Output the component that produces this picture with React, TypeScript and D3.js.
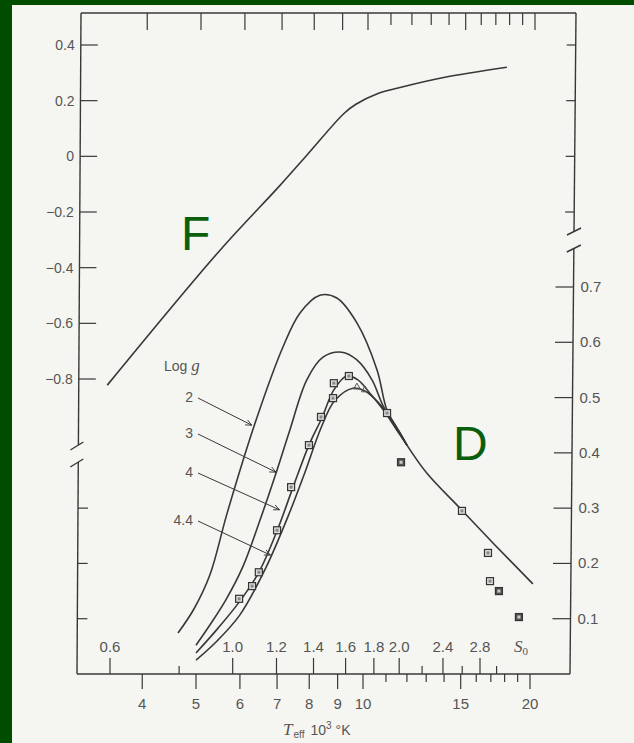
import React from 'react';
import * as d3 from 'd3';

// ---------- data ----------
const teffMajor = [4, 5, 6, 7, 8, 9, 10, 15, 20];
const teffMinor = [11, 12, 13, 14, 16, 17, 18, 19];
const s0Major = [0.6, 1.0, 1.2, 1.4, 1.6, 1.8, 2.0, 2.4, 2.8];
const s0Minor = [0.8, 2.2, 2.6, 3.0];
const fTicks = [0.4, 0.2, 0, -0.2, -0.4, -0.6, -0.8];
const fRightTicks = [0.4, 0.2, 0, -0.2];
const dTicks = [0.1, 0.2, 0.3, 0.4, 0.5, 0.6, 0.7];
const dLeftTicks = [0.1, 0.2, 0.3];

// F vs Teff (10^3 K)
const fCurve: [number, number][] = [
  [3.46, -0.822], [5.52, -0.338], [7.06, -0.108], [7.92, 0.004], [9.24, 0.154],
  [9.71, 0.187], [10.64, 0.226], [11.86, 0.251], [14.05, 0.284], [18.17, 0.32],
];

// D vs Teff for log g = 2, 3, 4, 4.4
const logg2: [number, number][] = [
  [4.64, 0.074], [4.96, 0.118], [5.3, 0.18], [5.69, 0.291], [6.39, 0.454], [7.17, 0.591], [7.7, 0.653],
  [8.36, 0.685], [8.97, 0.68], [9.75, 0.635], [10.6, 0.55], [11.05, 0.477], [11.66, 0.436], [12.0, 0.414],
];
const logg3: [number, number][] = [
  [5.0, 0.052], [5.3, 0.089], [5.66, 0.134], [6.08, 0.195], [6.52, 0.278], [7.0, 0.369],
  [7.38, 0.441], [7.92, 0.532], [8.47, 0.573], [9.16, 0.582], [9.75, 0.568], [10.38, 0.532],
  [10.86, 0.486], [11.42, 0.45], [12.0, 0.414],
];
const logg4: [number, number][] = [
  [5.0, 0.038], [5.48, 0.083], [5.98, 0.13], [6.49, 0.184], [7.0, 0.259],
  [7.45, 0.333], [7.99, 0.414], [8.43, 0.463], [8.86, 0.514], [9.35, 0.539], [9.79, 0.532],
  [10.29, 0.508], [10.95, 0.474], [11.51, 0.441], [12.0, 0.414],
];
const logg44: [number, number][] = [
  [5.0, 0.025], [5.41, 0.056], [6.0, 0.107], [6.68, 0.192], [7.38, 0.293], [7.86, 0.365],
  [8.4, 0.445], [8.9, 0.495], [9.59, 0.517], [10.08, 0.512], [10.64, 0.492], [11.28, 0.459], [12.0, 0.414],
];
const commonTail: [number, number][] = [
  [12.0, 0.414], [13.04, 0.363], [14.95, 0.3], [17.15, 0.237], [20.24, 0.163],
];

// observed points (Teff, D, dark)
const obsT = [5.98, 6.31, 6.49, 7.0, 7.42, 7.99, 8.4, 8.83, 8.86, 9.43, 11.05, 11.71, 15.08, 16.8, 16.94, 17.58, 19.1];
const obsD = [0.136, 0.159, 0.184, 0.26, 0.338, 0.414, 0.465, 0.499, 0.526, 0.539, 0.472, 0.383, 0.295, 0.219, 0.168, 0.15, 0.103];
const obsDark = [0, 0, 0, 0, 0, 0, 0, 0, 0, 0, 0, 1, 0, 0, 0, 1, 1];
const triT = [9.75, 10.08];
const triD = [0.519, 0.514];

const curveNames = ['2', '3', '4', '4.4'];
const tipT = [6.33, 7.0, 7.1, 6.84];
const tipD = [0.45, 0.365, 0.297, 0.215];

// ---------- layout ----------
const W = 634, H = 743;
const T = 13, B = 674;
// slightly rotated scan: axis x positions depend on y
const Lx = (y: number) => 81 - (4 * (y - T)) / (B - T);
const Rx = (y: number) => 576 - (6 * (y - T)) / (B - T);

const x = d3.scaleLog().domain([5, 20]).range([196, 530]);
const xTop = d3.scaleLog().domain([5, 20]).range([201, 535]);
const xs = d3.scaleLog().domain([0.6, 2.8]).range([110, 480]);
const yF = d3.scaleLinear().domain([-0.8, 0.4]).range([379, 45]);
const yD = d3.scaleLinear().domain([0, 0.7]).range([B, 287]);

const ink = '#383838';
const txt = '#555';
const font = '"Liberation Sans", Arial, sans-serif';
const serif = "'Liberation Serif', 'DejaVu Serif', serif";

export default function App() {
  const lineF = d3.line<[number, number]>().x(d => x(d[0])).y(d => yF(d[1])).curve(d3.curveCatmullRom.alpha(0.5));
  const lineD = d3.line<[number, number]>().x(d => x(d[0])).y(d => yD(d[1])).curve(d3.curveCatmullRom.alpha(0.5));
  const curves = [logg2, logg3, logg4, logg44];
  const labelY = [402, 438, 477, 525];

  const lBreakTop = 445, lBreakBot = 462;
  const rBreakTop = 231, rBreakBot = 249;

  return (
    <div style={{ position: 'fixed', left: 0, top: 0 }}>
      <svg width={W} height={H} style={{ display: 'block' }}>
        <defs>
          <marker id="ah" viewBox="0 0 10 10" refX="9" refY="5" markerWidth="7" markerHeight="7" orient="auto">
            <path d="M0,1 L9,5 L0,9" fill="none" stroke={ink} strokeWidth="1.2" />
          </marker>
        </defs>
        <rect x={0} y={0} width={W} height={H} fill="#004d00" />
        <rect x={12} y={5} width={W - 12} height={H - 5} fill="#f5f5f1" />

        {/* frame */}
        <g stroke={ink} strokeWidth={1.4} fill="none">
          <line x1={Lx(T)} y1={T} x2={Rx(T)} y2={T} />
          <line x1={Lx(B)} y1={B} x2={Rx(B)} y2={B} />
          <line x1={Lx(T)} y1={T} x2={Lx(lBreakTop)} y2={lBreakTop} />
          <line x1={Lx(lBreakBot)} y1={lBreakBot} x2={Lx(B)} y2={B} />
          <line x1={Rx(T)} y1={T} x2={Rx(rBreakTop)} y2={rBreakTop} />
          <line x1={Rx(rBreakBot)} y1={rBreakBot} x2={Rx(B)} y2={B} />
          <line x1={Lx(450) - 8} y1={450} x2={Lx(442) + 5} y2={442} />
          <line x1={Lx(467) - 8} y1={467} x2={Lx(459) + 5} y2={459} />
          <line x1={Rx(235) - 7} y1={235} x2={Rx(228) + 7} y2={228} />
          <line x1={Rx(252) - 7} y1={252} x2={Rx(245) + 7} y2={245} />
        </g>

        <g stroke={ink} strokeWidth={1.2}>
          {/* top Teff ticks */}
          {teffMajor.filter(t => t >= 4).map(t => <line key={'tM' + t} x1={xTop(t)} x2={xTop(t)} y1={T} y2={T + 17} />)}
          {teffMinor.map(t => <line key={'tm' + t} x1={xTop(t)} x2={xTop(t)} y1={T} y2={T + 12} />)}
          {/* bottom Teff ticks */}
          {teffMajor.map(t => <line key={'bM' + t} x1={x(t)} x2={x(t)} y1={B} y2={B + 15} />)}
          {teffMinor.map(t => <line key={'bm' + t} x1={x(t)} x2={x(t)} y1={B} y2={B + 8} />)}
          {/* S0 ticks */}
          {s0Major.map(s => <line key={'sM' + s} x1={xs(s)} x2={xs(s)} y1={B} y2={B - 16} />)}
          {s0Minor.map(s => <line key={'sm' + s} x1={xs(s)} x2={xs(s)} y1={B} y2={B - 8} />)}
          {/* left F ticks */}
          {fTicks.map(f => <line key={'lf' + f} x1={Lx(yF(f))} x2={Lx(yF(f)) + 17} y1={yF(f)} y2={yF(f)} />)}
          {dLeftTicks.map(d => <line key={'ld' + d} x1={Lx(yD(d))} x2={Lx(yD(d)) + 10} y1={yD(d)} y2={yD(d)} />)}
          {fRightTicks.map(f => <line key={'rf' + f} x1={Rx(yF(f)) - 9} x2={Rx(yF(f))} y1={yF(f)} y2={yF(f)} />)}
          {dTicks.map(d => <line key={'rd' + d} x1={Rx(yD(d)) - 18} x2={Rx(yD(d))} y1={yD(d)} y2={yD(d)} />)}
        </g>

        {/* tick labels */}
        <g fill={txt} fontFamily={font}>
          {fTicks.map(f => (
            <text key={'lfl' + f} x={Lx(yF(f)) - 6} y={yF(f) + 5} textAnchor="end" fontSize={14}>
              {f === 0 ? '0' : (f < 0 ? '\u2212' : '') + Math.abs(f).toFixed(1)}
            </text>
          ))}
          {dTicks.map(d => (
            <text key={'rdl' + d} x={Rx(yD(d)) + 7} y={yD(d) + 5} fontSize={15}>{d.toFixed(1)}</text>
          ))}
          {teffMajor.map(t => (
            <text key={'btl' + t} x={x(t)} y={B + 35} textAnchor="middle" fontSize={15}>{t}</text>
          ))}
          {s0Major.map(s => (
            <text key={'sl' + s} x={xs(s)} y={B - 22} textAnchor="middle" fontSize={15}>{s.toFixed(1)}</text>
          ))}
        </g>
        <text x={514} y={B - 22} fill={txt} fontFamily={serif} fontStyle="italic" fontSize={17}>
          S<tspan fontSize={11} dy={3} fontStyle="normal">0</tspan>
        </text>
        <text x={283} y={735} fill={txt} fontFamily={font} fontSize={14}>
          <tspan fontFamily={serif} fontStyle="italic" fontSize={17}>T</tspan>
          <tspan fontSize={10} dy={3} dx={1}>eff</tspan>
          <tspan dy={-3} dx={6}>10</tspan>
          <tspan fontSize={10} dy={-6}>3</tspan>
          <tspan dy={6} dx={4}>°K</tspan>
        </text>

        {/* curves */}
        <g fill="none" stroke={ink} strokeWidth={1.6}>
          <path d={lineF(fCurve) || ''} />
          {curves.map((c, i) => <path key={'c' + i} d={lineD(c) || ''} />)}
          <path d={lineD(commonTail) || ''} />
        </g>

        {/* observed points */}
        <g>
          {obsT.map((t, i) => (
            <g key={'o' + i} transform={`translate(${x(t)},${yD(obsD[i])})`}>
              <rect x={-3.5} y={-3.5} width={7} height={7} fill={obsDark[i] ? '#555' : '#ddd'} stroke="#333" strokeWidth={1.2} />
              <rect x={-1.5} y={-1.5} width={3} height={3} fill={obsDark[i] ? '#ccc' : '#888'} />
            </g>
          ))}
          {triT.map((t, i) => (
            <path key={'tr' + i} d={d3.symbol(d3.symbolTriangle, 20)() || ''}
              transform={`translate(${x(t)},${yD(triD[i])})`} fill="none" stroke="#555" strokeWidth={1} />
          ))}
        </g>

        {/* legend annotations */}
        <text x={164} y={371} fill={txt} fontFamily={font} fontSize={14}>
          Log <tspan fontFamily={serif} fontStyle="italic" fontSize={17}>g</tspan>
        </text>
        {curveNames.map((n, i) => (
          <g key={'a' + i}>
            <text x={193} y={labelY[i]} textAnchor="end" fill={txt} fontFamily={font} fontSize={14}>{n}</text>
            <line x1={198} y1={labelY[i] - 4} x2={x(tipT[i]) - 1} y2={yD(tipD[i])} stroke={ink} strokeWidth={1} markerEnd="url(#ah)" />
          </g>
        ))}

        {/* panel letters */}
        <text x={181} y={250} fill="#0b5e0b" fontFamily={font} fontSize={48}>F</text>
        <text x={453} y={460} fill="#0b5e0b" fontFamily={font} fontSize={48}>D</text>
      </svg>
    </div>
  );
}
